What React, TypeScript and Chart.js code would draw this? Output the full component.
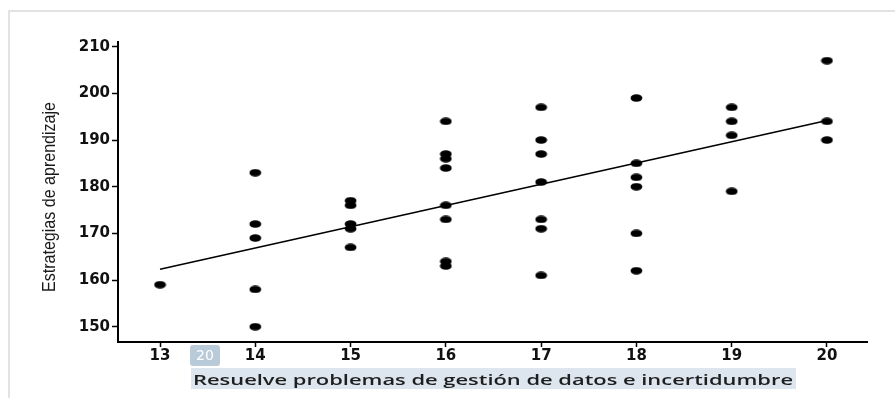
import React, { useEffect, useRef } from "react";
import { Chart, registerables } from "chart.js";

Chart.register(...registerables);

// ---- data ----
const xScores = [13, 14, 15, 16, 17, 18, 19, 20];
const strategyScores = [
  [159],
  [183, 172, 169, 158, 150],
  [177, 176, 172, 171, 167],
  [194, 187, 186, 184, 176, 173, 164, 163],
  [197, 190, 187, 181, 173, 171, 161],
  [199, 185, 182, 180, 170, 162],
  [197, 194, 191, 179],
  [207, 194, 190],
];
const trendX = [13, 20];
const trendY = [162.3, 194.2];
const xTicks = [13, 14, 15, 16, 17, 18, 19, 20];
const yTicks = [150, 160, 170, 180, 190, 200, 210];
const xTitle = "Resuelve problemas de gestión de datos e incertidumbre";
const yTitle = "Estrategias de aprendizaje";
const badgeText = "20";

function makeDot(): HTMLCanvasElement {
  const c = document.createElement("canvas");
  c.width = 13;
  c.height = 8;
  const g = c.getContext("2d")!;
  g.fillStyle = "#000";
  g.beginPath();
  g.ellipse(6.5, 4, 5.9, 3.8, 0, 0, Math.PI * 2);
  g.fill();
  return c;
}

const decorPlugin = {
  id: "decor",
  beforeDraw(chart: any) {
    const ctx = chart.ctx;
    ctx.save();
    ctx.fillStyle = "#ffffff";
    ctx.fillRect(0, 0, chart.width, chart.height);
    ctx.fillStyle = "#e3e3e3";
    ctx.fillRect(8, 10, chart.width - 8, 2);
    ctx.fillRect(8, 10, 2, chart.height - 10);
    ctx.restore();
  },
  afterDraw(chart: any) {
    const ctx = chart.ctx;
    const a = chart.chartArea;

    // small page badge
    ctx.save();
    ctx.fillStyle = "#b9cad9";
    ctx.beginPath();
    (ctx as any).roundRect(a.left + 72, a.bottom + 3, 30, 21, 3);
    ctx.fill();
    ctx.fillStyle = "#ffffff";
    ctx.font = '14px "DejaVu Sans"';
    ctx.textAlign = "center";
    ctx.textBaseline = "middle";
    ctx.fillText(badgeText, a.left + 87, a.bottom + 14);
    ctx.restore();

    // x title with highlight
    ctx.save();
    ctx.fillStyle = "#dde5ee";
    ctx.fillRect(a.left + 73, a.bottom + 26, 605, 21);
    ctx.font = '600 15px "Open Sans"';
    const w = ctx.measureText(xTitle).width;
    ctx.translate(a.left + 75, a.bottom + 43);
    ctx.scale(600 / w, 1);
    ctx.fillStyle = "#1e1e1e";
    ctx.textBaseline = "alphabetic";
    ctx.textAlign = "left";
    ctx.fillText(xTitle, 0, 0);
    ctx.restore();

    // y title
    ctx.save();
    ctx.font = '18px "Liberation Sans"';
    const wy = ctx.measureText(yTitle).width;
    ctx.translate(55, 197);
    ctx.rotate(-Math.PI / 2);
    ctx.scale(190 / wy, 1);
    ctx.fillStyle = "#1a1a1a";
    ctx.textAlign = "center";
    ctx.textBaseline = "alphabetic";
    ctx.fillText(yTitle, 0, 0);
    ctx.restore();
  },
};

export default function App() {
  const ref = useRef<HTMLCanvasElement>(null);

  useEffect(() => {
    const points = xScores.flatMap((x, i) =>
      strategyScores[i].map((y) => ({ x, y }))
    );
    const trend = trendX.map((x, i) => ({ x, y: trendY[i] }));
    const dot = makeDot();
    const tickFont = { family: "DejaVu Sans", size: 15, weight: "bold" as const };

    const chart = new Chart(ref.current!, {
      type: "scatter",
      data: {
        datasets: [
          {
            data: points,
            pointStyle: dot as any,
            pointRadius: 5,
            backgroundColor: "#000",
            borderColor: "#000",
          },
          {
            type: "line",
            data: trend,
            borderColor: "#000",
            borderWidth: 1.6,
            pointRadius: 0,
            showLine: true,
            fill: false,
          } as any,
        ],
      },
      plugins: [decorPlugin],
      options: {
        animation: false,
        responsive: false,
        events: [],
        layout: { padding: { left: 0, top: 42, right: 28, bottom: 0 } },
        plugins: {
          legend: { display: false },
          tooltip: { enabled: false },
        },
        scales: {
          x: {
            type: "linear",
            min: 12.559,
            max: 20.42,
            afterFit: (s: any) => {
              s.height = 56;
            },
            afterBuildTicks: (s: any) => {
              s.ticks = xTicks.map((v) => ({ value: v }));
            },
            grid: {
              display: true,
              drawOnChartArea: false,
              drawTicks: true,
              tickLength: 5,
              tickWidth: 1.5,
              tickColor: "#000",
            },
            border: { display: true, color: "#000", width: 2 },
            ticks: {
              color: "#111",
              font: tickFont,
              padding: 0,
              maxRotation: 0,
              autoSkip: false,
              callback: (v: any) => String(v),
            },
          },
          y: {
            type: "linear",
            min: 146.73,
            max: 211,
            afterFit: (s: any) => {
              s.width = 118;
            },
            afterBuildTicks: (s: any) => {
              s.ticks = yTicks.map((v) => ({ value: v }));
            },
            grid: {
              display: true,
              drawOnChartArea: false,
              drawTicks: true,
              tickLength: 6,
              tickWidth: 1.5,
              tickColor: "#000",
            },
            border: { display: true, color: "#000", width: 2 },
            ticks: {
              color: "#111",
              font: tickFont,
              padding: 2,
              autoSkip: false,
              callback: (v: any) => String(v),
            },
          },
        },
      },
    });
    return () => chart.destroy();
  }, []);

  return (
    <div style={{ position: "absolute", left: 0, top: 0, width: 895, height: 398 }}>
      <canvas ref={ref} width={895} height={398} style={{ display: "block" }} />
    </div>
  );
}
